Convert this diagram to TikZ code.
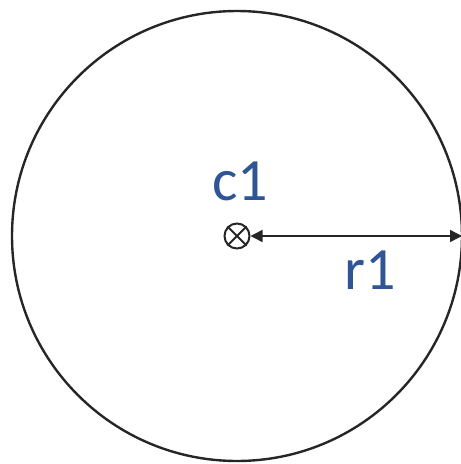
\documentclass[tikz,border=0pt]{standalone}
\usepackage{fontspec}
\setmainfont{Carlito}
\usepackage{xcolor}
\usetikzlibrary{arrows.meta,positioning,calc}
\definecolor{labelblue}{HTML}{2F5597}

\begin{document}
\begin{tikzpicture}[x=1pt,y=-1pt,>={Triangle[length=12pt,width=12pt]},
  lbl/.style={text=labelblue,font=\fontsize{60}{60}\selectfont,inner sep=0pt}]
  \useasboundingbox (0,0) rectangle (461,464);
  % cerchio
  \coordinate (c1) at (237,236);
  \draw[line width=2.4pt,black!85] (c1) circle (225);
  % centro
  \node[draw,circle,line width=2pt,black!85,minimum size=25pt,inner sep=0pt] (ctr) at (c1) {};
  \draw[line width=2pt,black!85] (ctr.north west) -- (ctr.south east)
    (ctr.north east) -- (ctr.south west);
  % raggio
  \coordinate (rim) at (462,236);
  \draw[<->,line width=1.4pt,black!85] (ctr.east) -- (rim);
  \node[lbl] (c1lab) at (240,181) {c1};
  \node[lbl] (r1lab) at (370,270) {r1};
\end{tikzpicture}
\end{document}
